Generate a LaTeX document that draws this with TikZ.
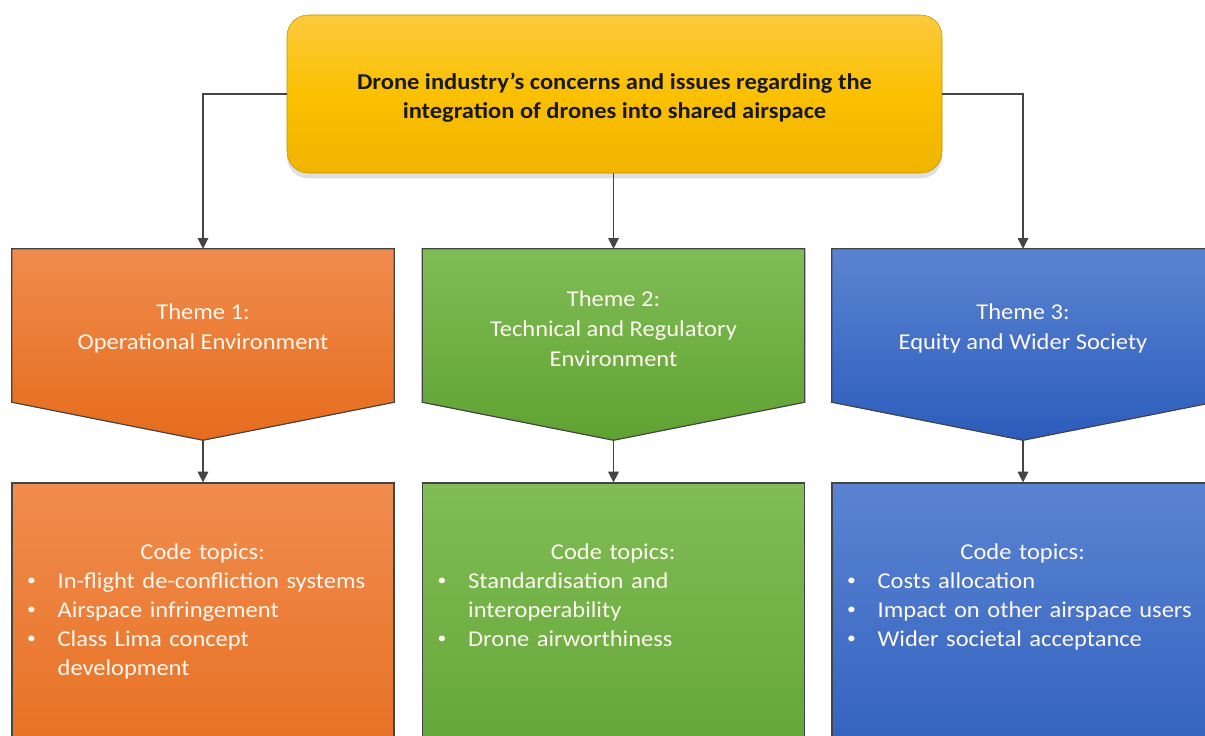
\documentclass[tikz,border=0pt]{standalone}
\usepackage{fontspec}
\setmainfont[FakeStretch=1.08]{Carlito}
\usetikzlibrary{arrows.meta,shadows,backgrounds,calc}
\definecolor{orT}{RGB}{240,140,78}
\definecolor{orB}{RGB}{230,108,28}
\definecolor{grT}{RGB}{128,189,86}
\definecolor{grB}{RGB}{96,162,50}
\definecolor{blT}{RGB}{90,132,210}
\definecolor{blB}{RGB}{44,92,188}
\definecolor{yeT}{RGB}{252,202,62}
\definecolor{yeM}{RGB}{251,192,0}
\definecolor{yeB}{RGB}{240,180,0}
\definecolor{edge}{RGB}{68,68,68}
\definecolor{txt}{RGB}{255,248,240}
\newcommand\smbul{\raisebox{0.12em}{\scalebox{0.72}{\textbullet}}}
\newcommand\itm[1]{\par\noindent\hspace*{11.5pt}\makebox[23pt][l]{\smbul}#1}
\newcommand\cont[1]{\par\noindent\hspace*{34.5pt}#1}
\tikzset{
  conn/.style={draw=edge, line width=0.8pt, -{Triangle[length=8pt,width=8pt]}},
  themebox/.style={minimum width=286.5pt, minimum height=114.75pt, inner sep=0pt},
  themetext/.style={inner sep=0pt, text=txt, align=center, font=\fontsize{17}{22.5}\selectfont, yshift=-2.5pt},
  codebox/.style={draw=edge, line width=0.9pt, minimum width=286.5pt, minimum height=237.75pt, inner sep=0pt},
  codetext/.style={anchor=north west, inner sep=0pt, text width=286.5pt, align=left,
     text=txt, font=\fontsize{17}{21.75}\selectfont},
  orshade/.style={top color=orT, bottom color=orB},
  grshade/.style={top color=grT, bottom color=grB},
  blshade/.style={top color=blT, bottom color=blB},
}
\begin{document}
\begin{tikzpicture}[x=0.75pt,y=-0.75pt]
\useasboundingbox (0,0) rectangle (1205,735);
\clip (0,0) rectangle (1205,735);
% top box
\node[draw=yeB!80!black, line width=0.4pt, rounded corners=16pt, minimum width=491.25pt, minimum height=118.5pt,
  top color=yeT, bottom color=yeB, middle color=yeM,
  drop shadow={opacity=0.18, shadow xshift=0pt, shadow yshift=-4pt, fill=black!70},
  label={[inner sep=0pt, align=center, text=black!90, font=\bfseries\fontsize{17}{21.5}\selectfont, yshift=-3pt]center:{Drone industry’s concerns and issues regarding the\\integration of drones into shared airspace}}] (top) at (614.5,94) {};
% themes
\node[themebox, label={[themetext]center:{Theme 1:\\Operational Environment}}] (t1) at (203,325.5) {};
\node[themebox, label={[themetext]center:{Theme 2:\\Technical and Regulatory\\Environment}}] (t2) at (613.5,325.5) {};
\node[themebox, label={[themetext]center:{Theme 3:\\Equity and Wider Society}}] (t3) at (1023,325.5) {};
\coordinate (t1tip) at ($(t1.south)+(0,38)$);
\coordinate (t2tip) at ($(t2.south)+(0,38)$);
\coordinate (t3tip) at ($(t3.south)+(0,38)$);
\begin{scope}[on background layer]
\shadedraw[orshade, draw=edge, line width=0.9pt] (t1.north west) -- (t1.north east) -- (t1.south east) -- (t1tip) -- (t1.south west) -- cycle;
\shadedraw[grshade, draw=edge, line width=0.9pt] (t2.north west) -- (t2.north east) -- (t2.south east) -- (t2tip) -- (t2.south west) -- cycle;
\shadedraw[blshade, draw=edge, line width=0.9pt] (t3.north west) -- (t3.north east) -- (t3.south east) -- (t3tip) -- (t3.south west) -- cycle;
\end{scope}
% code boxes
\node[codebox, orshade] (b1) at (203,641.5) {};
\node[codebox, grshade] (b2) at (613.5,641.5) {};
\node[codebox, blshade] (b3) at (1023,641.5) {};
\node[codetext] (b1t) at ($(b1.north west)+(0,61)$) {{\centering Code topics:\par}\itm{In-flight de-confliction systems}\itm{Airspace infringement}\itm{Class Lima concept}\cont{development}};
\node[codetext] (b2t) at ($(b2.north west)+(0,61)$) {{\centering Code topics:\par}\itm{Standardisation and}\cont{interoperability}\itm{Drone airworthiness}};
\node[codetext] (b3t) at ($(b3.north west)+(0,61)$) {{\centering Code topics:\par}\itm{Costs allocation}\itm{Impact on other airspace users}\itm{Wider societal acceptance}};
% connectors
\draw[conn] (top.west) -| (t1.north);
\draw[conn] (top.south -| t2.north) -- (t2.north);
\draw[conn] (top.east) -| (t3.north);
\draw[conn] (t1tip) -- (b1.north);
\draw[conn] (t2tip) -- (b2.north);
\draw[conn] (t3tip) -- (b3.north);
\end{tikzpicture}
\end{document}
